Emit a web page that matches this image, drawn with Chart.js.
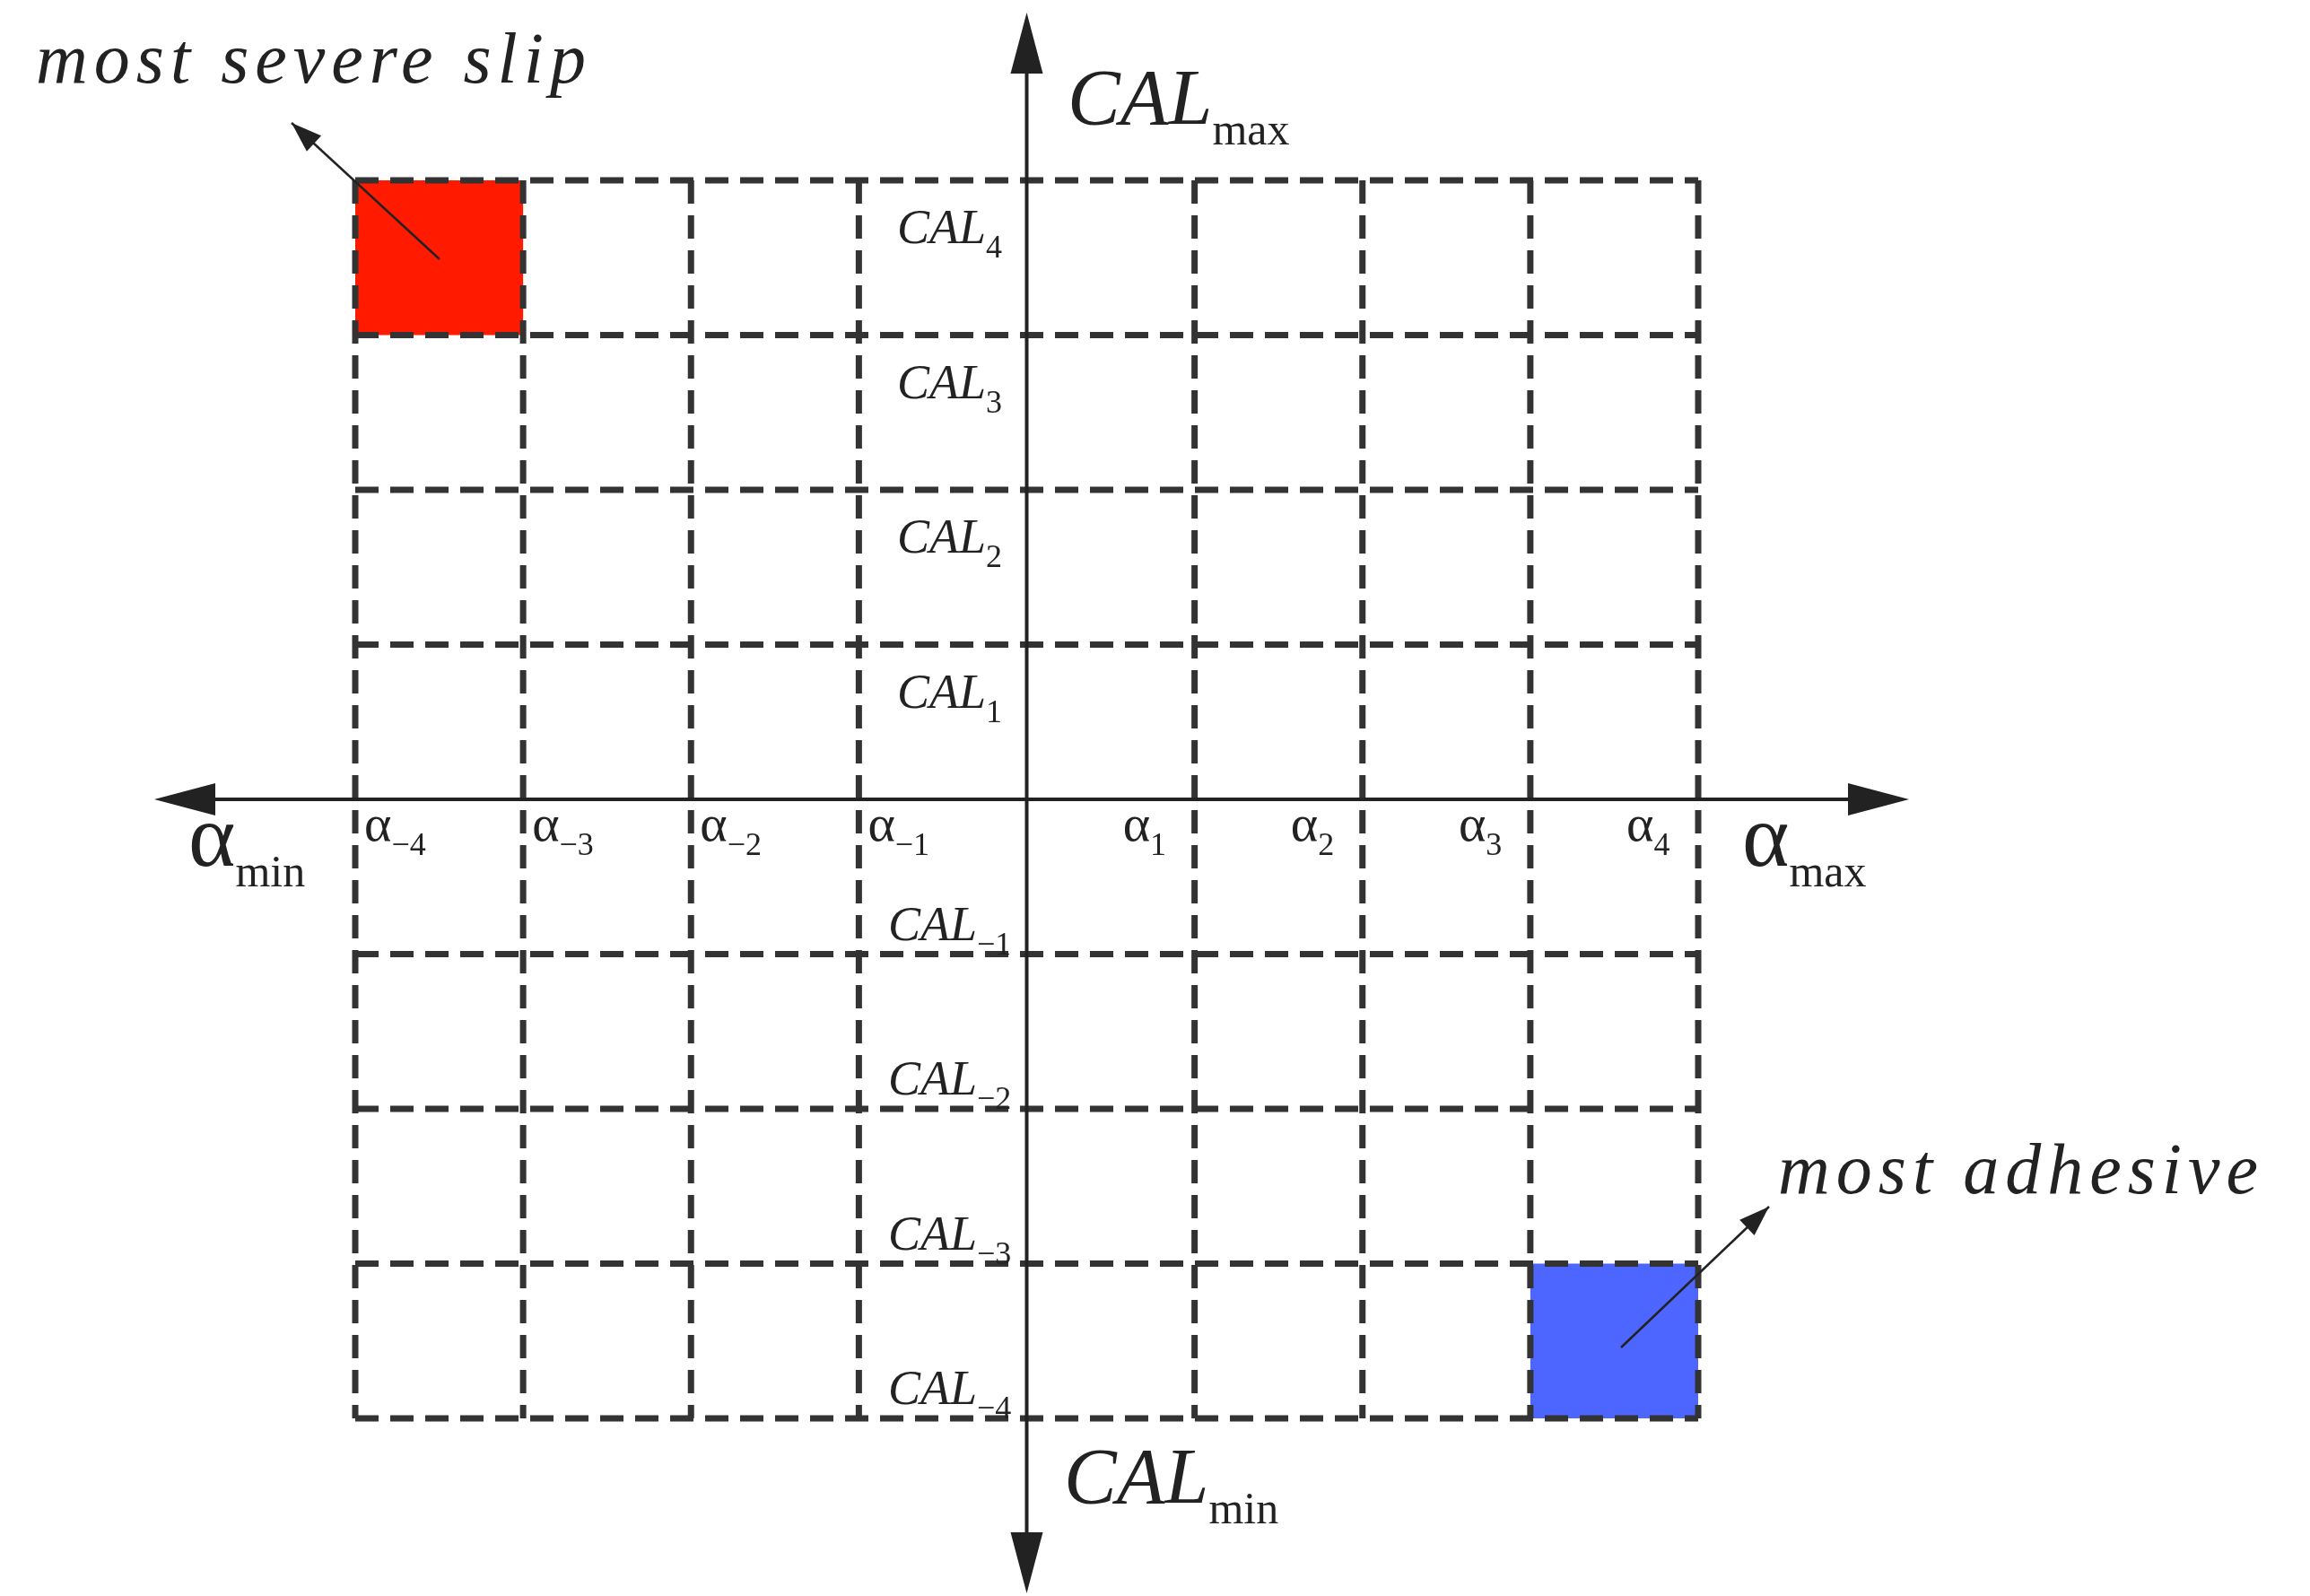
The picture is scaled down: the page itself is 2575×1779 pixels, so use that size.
<!DOCTYPE html>
<html><head><meta charset="utf-8">
<script src="https://cdn.jsdelivr.net/npm/chart.js@4"></script>
<style>html,body{margin:0;background:#fff}#c{display:block}</style></head>
<body><canvas id="c" width="2575" height="1779"></canvas>
<script>
const alphaTicks=[-4,-3,-2,-1,1,2,3,4];
const alphaLabels=['−4','−3','−2','−1','1','2','3','4'];
const calTicks=[4,3,2,1,-1,-2,-3,-4];
const calLabels=['4','3','2','1','−1','−2','−3','−4'];
const cells=[{x0:-4,x1:-3,y0:3,y1:4,color:'#ff1a00'},{x0:3,x1:4,y0:-4,y1:-3,color:'#4d66ff'}];
const SERIF='"Liberation Serif","DejaVu Serif",serif';
function sub(ctx,x,y,main,s,mf,sf,italic){
  ctx.font=(italic?'italic ':'')+mf+'px '+SERIF;ctx.fillText(main,x,y);
  const w=ctx.measureText(main).width;
  ctx.font=sf+'px '+SERIF;ctx.fillText(s,x+w,y+sf*0.45);
}
function arrow(ctx,x0,y0,x1,y1,head,w){
  ctx.lineWidth=w;ctx.beginPath();ctx.moveTo(x0,y0);ctx.lineTo(x1,y1);ctx.stroke();
  const a=Math.atan2(y1-y0,x1-x0);
  ctx.beginPath();ctx.moveTo(x1,y1);
  ctx.lineTo(x1-head*Math.cos(a)+head*0.35*Math.sin(a),y1-head*Math.sin(a)-head*0.35*Math.cos(a));
  ctx.lineTo(x1-head*Math.cos(a)-head*0.35*Math.sin(a),y1-head*Math.sin(a)+head*0.35*Math.cos(a));
  ctx.closePath();ctx.fill();
}
const draw={id:'draw',afterDraw(chart){
  const ctx=chart.ctx,X=chart.scales.x,Y=chart.scales.y;
  ctx.save();
  cells.forEach(c=>{ctx.fillStyle=c.color;
    const a=X.getPixelForValue(c.x0),b=X.getPixelForValue(c.x1),t=Y.getPixelForValue(c.y1),d=Y.getPixelForValue(c.y0);
    ctx.fillRect(a,t,b-a,d-t);});
  ctx.strokeStyle='#333';ctx.lineWidth=7;ctx.setLineDash([26,13]);
  const L=X.getPixelForValue(-4),R=X.getPixelForValue(4),T=Y.getPixelForValue(4),B=Y.getPixelForValue(-4);
  [-4,-3,-2,-1,1,2,3,4].forEach(v=>{const p=X.getPixelForValue(v);ctx.beginPath();ctx.moveTo(p,T);ctx.lineTo(p,B);ctx.stroke();});
  [-4,-3,-2,-1,1,2,3,4].forEach(v=>{const p=Y.getPixelForValue(v);ctx.beginPath();ctx.moveTo(L,p);ctx.lineTo(R,p);ctx.stroke();});
  ctx.setLineDash([]);
  ctx.strokeStyle='#222';ctx.fillStyle='#222';
  const x0=X.getPixelForValue(0),y0=Y.getPixelForValue(0);
  ctx.lineWidth=4;
  ctx.beginPath();ctx.moveTo(180,y0);ctx.lineTo(2100,y0);ctx.stroke();
  ctx.beginPath();ctx.moveTo(x0,50);ctx.lineTo(x0,1740);ctx.stroke();
  [[172,y0,1],[2128,y0,-1]].forEach(([x,y,s])=>{ctx.beginPath();ctx.moveTo(x,y);ctx.lineTo(x+s*68,y-18);ctx.lineTo(x+s*68,y+18);ctx.closePath();ctx.fill();});
  [[x0,14,1],[x0,1776,-1]].forEach(([x,y,s])=>{ctx.beginPath();ctx.moveTo(x,y);ctx.lineTo(x-18,y+s*68);ctx.lineTo(x+18,y+s*68);ctx.closePath();ctx.fill();});
  ctx.fillStyle='#222';ctx.textBaseline='alphabetic';ctx.textAlign='left';
  alphaTicks.forEach((v,i)=>{const p=X.getPixelForValue(v);
    const x=v<0?p+10:p-80;sub(ctx,x,y0+46,'α',alphaLabels[i],58,36,false);});
  calTicks.forEach((v,i)=>{const p=Y.getPixelForValue(v);
    const y=v>0?p+70:p-16;const x=v>0?1000:990;sub(ctx,x,y,'CAL',calLabels[i],54,36,true);});
  sub(ctx,1190,138,'CAL','max',88,50,true);
  sub(ctx,1186,1675,'CAL','min',88,50,true);
  sub(ctx,210,965,'α','min',100,50,false);
  sub(ctx,1942,965,'α','max',100,50,false);
  ctx.font='italic 80px '+SERIF;ctx.fillStyle='#222';
  if('letterSpacing' in ctx)ctx.letterSpacing='7px';
  ctx.fillText('most severe slip',40,92);
  ctx.fillText('most adhesive',1982,1330);
  if('letterSpacing' in ctx)ctx.letterSpacing='0px';
  arrow(ctx,490,289,325,137,34,2.5);
  arrow(ctx,1807,1502,1972,1345,34,2.5);
  ctx.restore();
}};
new Chart(document.getElementById('c'),{type:'scatter',
  data:{datasets:[{data:[]}]},
  options:{responsive:false,animation:false,
    layout:{padding:{left:396,right:682,top:201,bottom:198}},
    plugins:{legend:{display:false},tooltip:{enabled:false}},
    scales:{x:{type:'linear',min:-4,max:4,display:false},y:{type:'linear',min:-4,max:4,display:false}}},
  plugins:[draw]});
</script></body></html>
